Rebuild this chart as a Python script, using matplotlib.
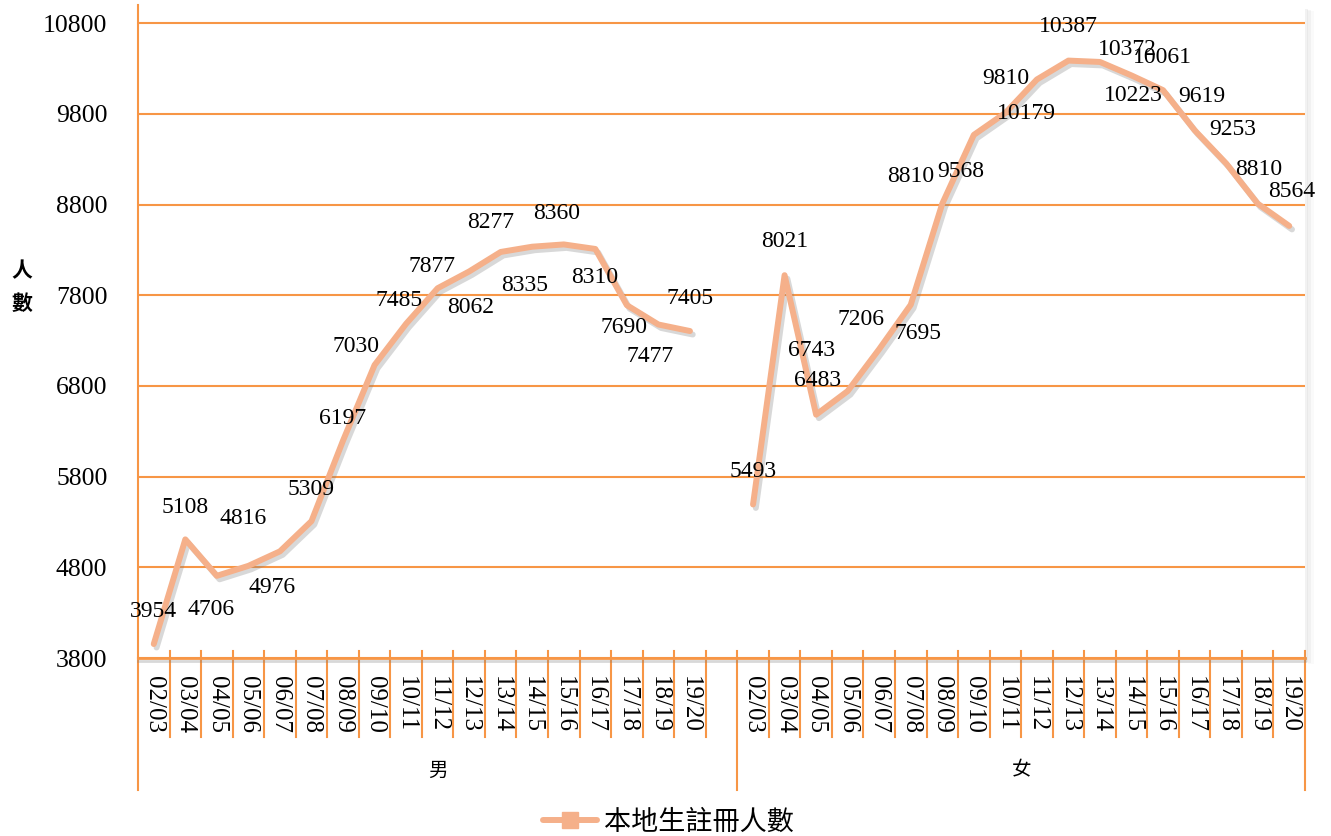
import matplotlib
matplotlib.use("Agg")
import matplotlib.pyplot as plt
import matplotlib.patheffects as pe
from matplotlib.lines import Line2D
from matplotlib.patches import Rectangle
from matplotlib.transforms import blended_transform_factory

# ---------------- data ----------------
years = ["02/03", "03/04", "04/05", "05/06", "06/07", "07/08", "08/09", "09/10", "10/11",
         "11/12", "12/13", "13/14", "14/15", "15/16", "16/17", "17/18", "18/19", "19/20"]
groups = ["男", "女"]
male = [3954, 5108, 4706, 4816, 4976, 5309, 6197, 7030, 7485, 7877, 8062, 8277, 8335,
        8360, 8310, 7690, 7477, 7405]
female = [5493, 8021, 6483, 6743, 7206, 7695, 8810, 9568, 9810, 10179, 10387, 10372,
          10223, 10061, 9619, 9253, 8810, 8564]
series_name = "本地生註冊人數"
y_ticks = [3800, 4800, 5800, 6800, 7800, 8800, 9800, 10800]

# label offsets (pixels: dx right, dy down) – style only
male_off = [(0, -33), (0, -32), (-6, 34), (-5, -47), (-8, 36), (0, -32), (0, -22), (-19, -19),
            (-7, -23), (-6, -22), (1, 36), (-10, -29), (-8, 39), (-7, -31), (-1, 29), (-3, 22),
            (-8, 32), (0, -33)]
female_off = [(0, -33), (0, -34), (1, -34), (-36, -41), (-18, -30), (7, 29), (-32, -27),
              (-13, 37), (0, -34), (-10, 34), (0, -34), (27, -12), (2, 20), (-1, -33),
              (7, -34), (7, -34), (1, -34), (2, -34)]

ORANGE = "#F79646"
LINE = "#F5B08A"
SERIF = ["Liberation Serif", "DejaVu Serif"]
CJK = ["Noto Sans CJK TC", "DejaVu Sans"]

W, H, DPI = 1331, 836, 100
fig = plt.figure(figsize=(W / DPI, H / DPI), dpi=DPI)
ax_l, ax_r, ax_b, ax_t = 138 / W, 1305 / W, 1 - 658 / H, 1 - 5 / H
ax = fig.add_axes([ax_l, ax_b, ax_r - ax_l, ax_t - ax_b])

# plot-area shadow
for i, a in enumerate([0.10, 0.07, 0.04]):
    fig.patches.append(Rectangle((ax_r + (i * 1.5) / W, ax_b - (4 + i) / H), (3 + i * 1.5) / W,
                                 ax_t - ax_b, transform=fig.transFigure, color="gray",
                                 alpha=a, zorder=0, lw=0))

n = len(years)
nslots = 2 * n + 1
xm = [i + 0.5 for i in range(n)]
xf = [n + 1 + i + 0.5 for i in range(n)]

ax.set_xlim(0, nslots)
ax.set_ylim(3800, 11000)
ax.set_yticks(y_ticks)
ax.set_yticklabels([str(v) for v in y_ticks], fontsize=18.5, family=SERIF)
ax.tick_params(axis="y", length=0, pad=22)
ax.set_xticks([])
ax.grid(axis="y", color=ORANGE, lw=1.5)
ax.set_axisbelow(True)
for s in ["top", "right"]:
    ax.spines[s].set_visible(False)
ax.spines["left"].set_color(ORANGE)
ax.spines["left"].set_linewidth(1.5)
ax.spines["bottom"].set_color(ORANGE)
ax.spines["bottom"].set_linewidth(2)
ax.spines["bottom"].set_path_effects([pe.SimpleLineShadow(offset=(0, -2), shadow_color="gray", alpha=0.3), pe.Normal()])

shadow = [pe.SimpleLineShadow(offset=(2, -2.5), shadow_color="gray", alpha=0.3), pe.Normal()]
for xs, ys in [(xm, male), (xf, female)]:
    ax.plot(xs, ys, color=LINE, lw=4.3, solid_capstyle="round", solid_joinstyle="round",
            path_effects=shadow, zorder=3)

for xs, ys, offs in [(xm, male, male_off), (xf, female, female_off)]:
    for x, y, (dx, dy) in zip(xs, ys, offs):
        ax.annotate(str(y), (x, y), xytext=(dx * 0.72, -dy * 0.72), textcoords="offset points",
                    ha="center", va="center", fontsize=17, family=SERIF, zorder=4)

# category axis lines and labels
tr = blended_transform_factory(ax.transData, ax.transAxes)
hpx = 658 - 5
for b in range(1, nslots):
    if b == n + 1:
        continue
    ax.plot([b, b], [7 / hpx, -79 / hpx], color=ORANGE, lw=1.5, transform=tr, clip_on=False)
for b in [0, n + 1, nslots]:
    ax.plot([b, b], [7 / hpx if b else 0, -132 / hpx], color=ORANGE, lw=1.5, transform=tr,
            clip_on=False)

for xs in (xm, xf):
    for x, lab in zip(xs, years):
        ax.text(x, -18 / hpx, lab, transform=tr, rotation=270, ha="center", va="top",
                fontsize=18, family=SERIF)

ax.text((n + 1) / 2, -112 / hpx, groups[0], transform=tr, ha="center", va="center",
        fontsize=14, family=CJK)
ax.text((n + 1 + nslots) / 2, -112 / hpx, groups[1], transform=tr, ha="center", va="center",
        fontsize=14, family=CJK)

# y axis title (stacked)
fig.text(22 / W, 1 - 271 / H, "人", ha="center", va="center", fontsize=15, family=CJK,
         fontweight="bold")
fig.text(22 / W, 1 - 303 / H, "數", ha="center", va="center", fontsize=15, family=CJK,
         fontweight="bold")

# legend
handle = Line2D([], [], color=LINE, lw=4.3, marker="s", markersize=12,
                markerfacecolor=LINE, markeredgecolor=LINE, solid_capstyle="round")
leg = fig.legend([handle], [series_name], loc="center", bbox_to_anchor=(668 / W, 1 - 822 / H),
                 frameon=False, prop={"family": CJK, "size": 19.5}, handlelength=2.0,
                 handletextpad=0.25)

fig.savefig("out.png", dpi=DPI)
